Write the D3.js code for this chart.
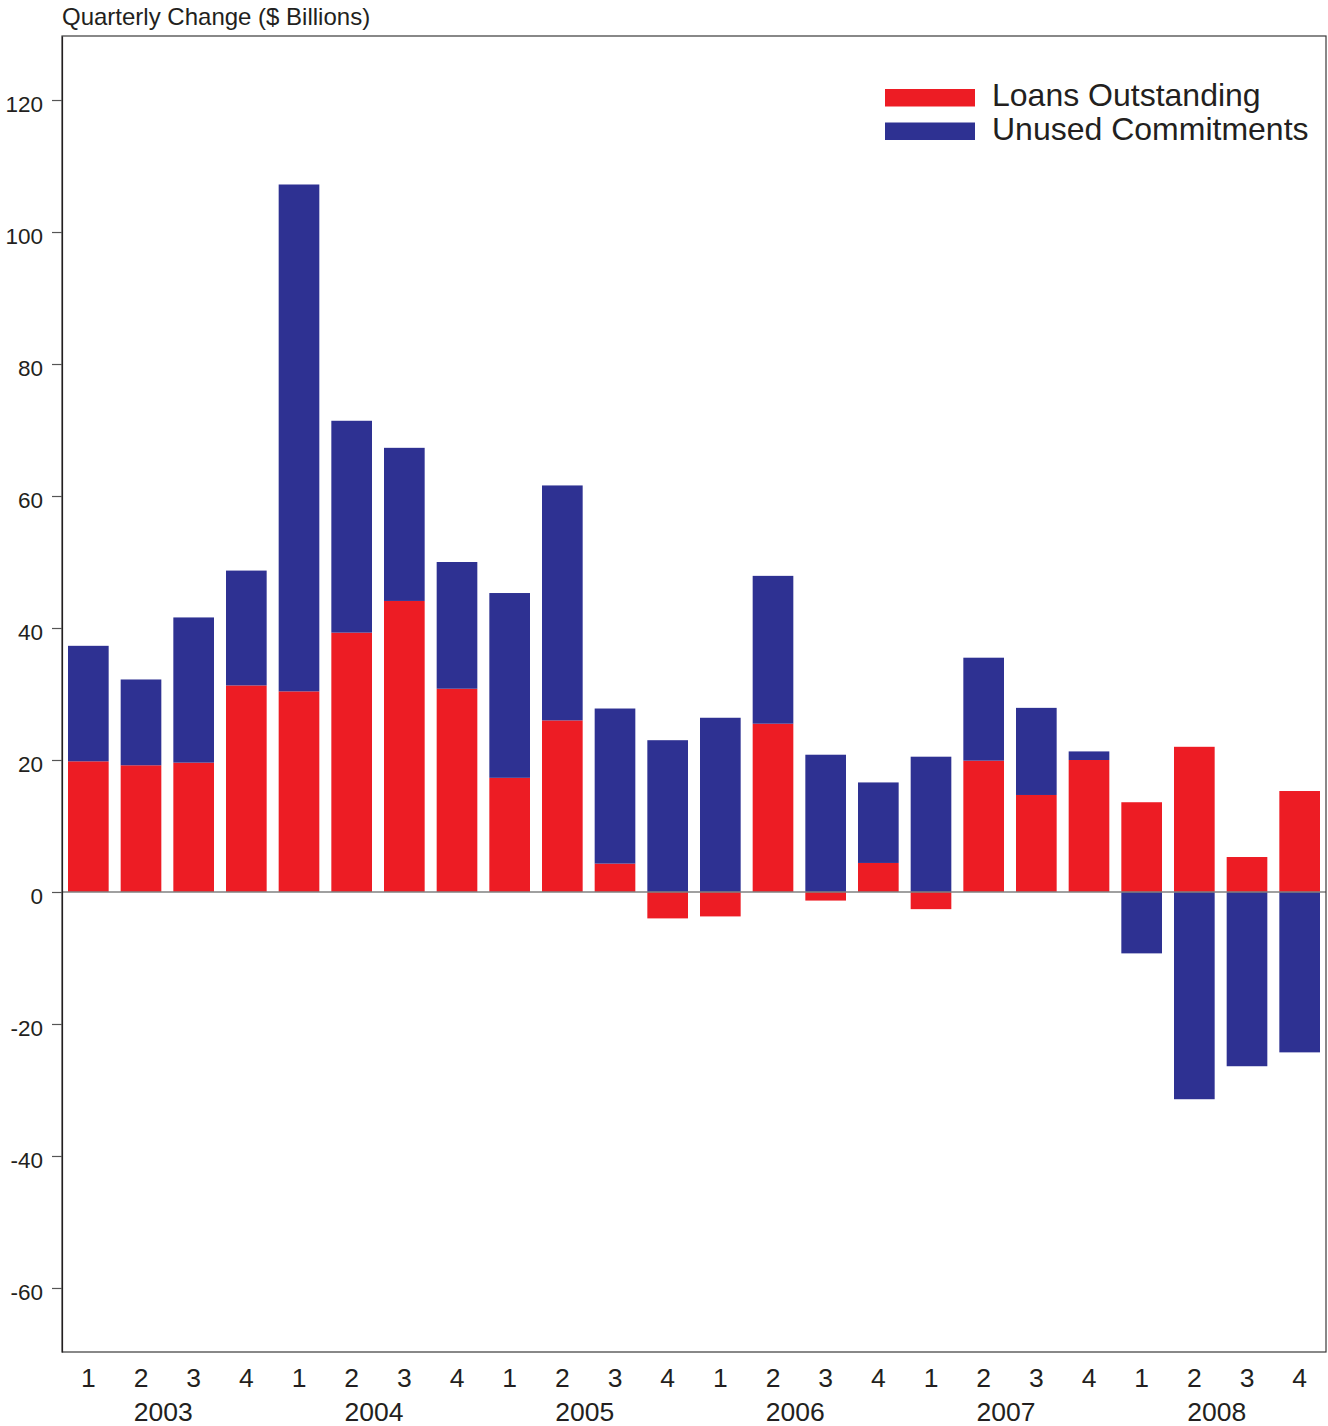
<!DOCTYPE html>
<html>
<head>
<meta charset="utf-8">
<script src="https://cdn.jsdelivr.net/npm/d3@7"></script>
<style>
  html, body { margin: 0; padding: 0; background: #fff; }
  svg { display: block; font-family: "Liberation Sans", Arial, Helvetica, sans-serif; }
</style>
</head>
<body>
<svg id="chart" width="1328" height="1426"></svg>
<script>
const years = ["2003", "2004", "2005", "2006", "2007", "2008"];
const quarters = ["1", "2", "3", "4"];
const loansOutstanding = [19.8, 19.2, 19.6, 31.3, 30.4, 39.3, 44.1, 30.8, 17.3, 26.0, 4.3, -4.0,
                          -3.7, 25.5, -1.3, 4.4, -2.6, 19.9, 14.7, 20.0, 13.6, 22.0, 5.3, 15.3];
const unusedCommitments = [17.5, 13.0, 22.0, 17.4, 76.8, 32.1, 23.2, 19.2, 28.0, 35.6, 23.5, 23.0,
                           26.4, 22.4, 20.8, 12.2, 20.5, 15.6, 13.2, 1.3, -9.3, -31.4, -26.4, -24.3];
const yTicks = [-60, -40, -20, 0, 20, 40, 60, 80, 100, 120];
const seriesNames = ["Loans Outstanding", "Unused Commitments"];
const seriesColors = ["#ED1C24", "#2E3192"];

const svg = d3.select("#chart");
const margin = { left: 62, top: 36, right: 2, bottom: 74 };
const W = 1328 - margin.left - margin.right;
const H = 1426 - margin.top - margin.bottom;

const ids = [];
years.forEach(y => quarters.forEach(q => ids.push(y + "-" + q)));
const rows = ids.map((id, i) => ({ id, year: id.split("-")[0], q: id.split("-")[1],
  loans: loansOutstanding[i], unused: unusedCommitments[i] }));

const x = d3.scaleBand().domain(ids).range([0, W]).paddingInner(0.228).paddingOuter(0.114);
const y = d3.scaleLinear().domain([-69.7, 129.7]).range([H, 0]);

const g = svg.append("g").attr("transform", `translate(${margin.left},${margin.top})`);

const stack = d3.stack().keys(["loans", "unused"]).offset(d3.stackOffsetDiverging);
const stacked = stack(rows);

stacked.forEach((layer, li) => {
  g.append("g").attr("fill", seriesColors[li])
    .selectAll("rect").data(layer).join("rect")
    .attr("x", d => x(d.data.id))
    .attr("width", x.bandwidth())
    .attr("y", d => y(Math.max(d[0], d[1])))
    .attr("height", d => Math.abs(y(d[0]) - y(d[1])));
});

// zero line
g.append("line")
  .attr("x1", 0).attr("x2", W)
  .attr("y1", y(0)).attr("y2", y(0))
  .attr("stroke", "#808080").attr("stroke-width", 1.6);

// frame
g.append("rect").attr("x", 0).attr("y", 0).attr("width", W).attr("height", H)
  .attr("fill", "none").attr("stroke", "#3a3a3a").attr("stroke-width", 1.2);

// y axis
const yAxis = d3.axisLeft(y).tickValues(yTicks).tickSize(10).tickSizeOuter(0).tickPadding(9)
  .tickFormat(d => String(d));
const ya = g.append("g").call(yAxis);
ya.select(".domain").attr("stroke", "#231f20").attr("stroke-width", 1.2);
ya.selectAll(".tick line").attr("stroke", "#555").attr("stroke-width", 1.2);
ya.selectAll(".tick text").attr("font-size", 22.5).attr("fill", "#231f20")
  .attr("font-family", "Liberation Sans, Arial, sans-serif").attr("dy", "0.52em");

// x labels: quarters
g.append("g").selectAll("text").data(rows).join("text")
  .attr("x", d => x(d.id) + x.bandwidth() / 2)
  .attr("y", H + 35)
  .attr("text-anchor", "middle")
  .attr("font-size", 26.5).attr("fill", "#231f20")
  .text(d => d.q);

// x labels: years, centered between Q2 and Q3
g.append("g").selectAll("text").data(years).join("text")
  .attr("x", yr => (x(yr + "-2") + x(yr + "-3") + x.bandwidth()) / 2 - 4)
  .attr("y", H + 69)
  .attr("text-anchor", "middle")
  .attr("font-size", 26.5).attr("fill", "#231f20")
  .text(yr => yr);

// title
svg.append("text")
  .attr("x", margin.left).attr("y", 25)
  .attr("font-size", 24).attr("fill", "#231f20")
  .text("Quarterly Change ($ Billions)");

// legend
const legend = svg.append("g").attr("transform", "translate(885,89)");
seriesNames.forEach((name, i) => {
  const row = legend.append("g").attr("transform", `translate(0,${i * 33.5})`);
  row.append("rect").attr("width", 90).attr("height", 17.5).attr("fill", seriesColors[i]);
  row.append("text").attr("x", 107).attr("y", 17)
    .attr("font-size", 32).attr("fill", "#231f20").text(name);
});
</script>
</body>
</html>
